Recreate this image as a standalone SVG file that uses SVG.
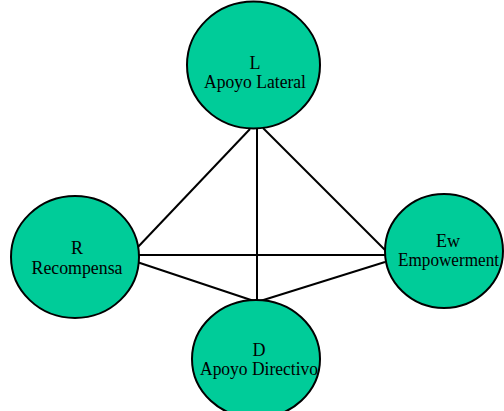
<svg xmlns="http://www.w3.org/2000/svg" width="504" height="411" viewBox="0 0 504 411">
  <style>
    .edge { stroke: #000; stroke-width: 2; fill: none; }
    .node { fill: #00CC99; stroke: #000; stroke-width: 2; }
    .lbl { font-family: "Liberation Serif", "Times New Roman", serif; font-size: 18px; fill: #000; text-anchor: middle; }
  </style>
  <rect width="504" height="411" fill="#fff"/>
  <g id="connectors">
    <line class="edge" x1="250" y1="129" x2="137" y2="248"/>
    <line class="edge" x1="263" y1="128" x2="385" y2="250"/>
    <line class="edge" x1="257" y1="129" x2="257" y2="302"/>
    <line class="edge" x1="137" y1="255" x2="385" y2="255"/>
    <line class="edge" x1="137" y1="262" x2="257" y2="302"/>
    <line class="edge" x1="257" y1="302" x2="385" y2="262"/>
  </g>
  <g id="node-L">
    <ellipse class="node" cx="253.5" cy="65" rx="66.5" ry="63.5"/>
    <text class="lbl" x="255" y="69">L</text>
    <text class="lbl" x="255" y="88" textLength="102" lengthAdjust="spacingAndGlyphs">Apoyo Lateral</text>
  </g>
  <g id="node-R">
    <ellipse class="node" cx="75" cy="257" rx="64" ry="61"/>
    <text class="lbl" x="77" y="254">R</text>
    <text class="lbl" x="77" y="274" textLength="91" lengthAdjust="spacingAndGlyphs">Recompensa</text>
  </g>
  <g id="node-Ew">
    <ellipse class="node" cx="444" cy="251" rx="59" ry="57"/>
    <text class="lbl" x="448" y="247">Ew</text>
    <text class="lbl" x="448.5" y="266" textLength="101" lengthAdjust="spacingAndGlyphs">Empowerment</text>
  </g>
  <g id="node-D">
    <ellipse class="node" cx="256" cy="359" rx="64" ry="59"/>
    <text class="lbl" x="259" y="356">D</text>
    <text class="lbl" x="259" y="375" textLength="118" lengthAdjust="spacingAndGlyphs">Apoyo Directivo</text>
  </g>
</svg>
